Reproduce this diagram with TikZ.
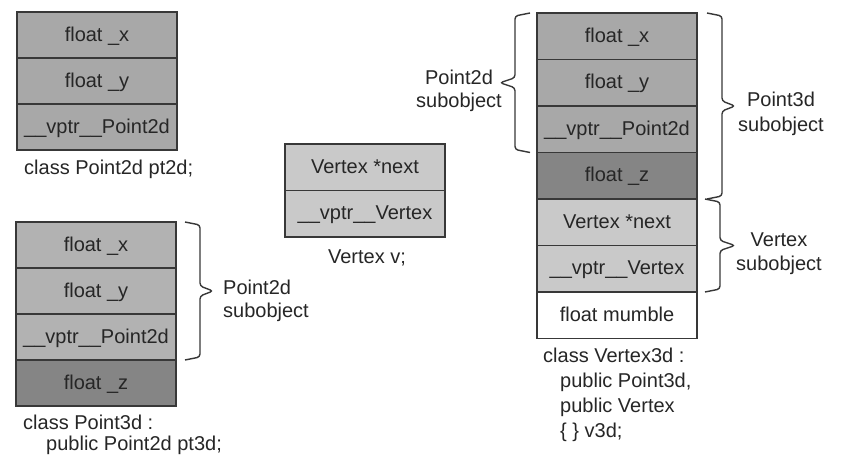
\documentclass[tikz,border=0pt]{standalone}
\usepackage{fontspec}
\setmainfont{Liberation Sans}
\usetikzlibrary{calc}
\definecolor{gMid}{gray}{0.66}
\definecolor{gMidL}{gray}{0.70}
\definecolor{gDark}{gray}{0.52}
\definecolor{gLight}{gray}{0.79}
\definecolor{ink}{gray}{0.15}
\definecolor{lineC}{gray}{0.22}
\begin{document}
\begin{tikzpicture}[x=1pt,y=-1pt,
  cell/.style={draw=lineC, line width=1.6pt, minimum width=160pt, anchor=north west,
    inner sep=0pt, outer sep=0pt, text height=14pt, text depth=2pt, text=ink,
    font=\fontsize{20}{24}\selectfont},
  rowA/.style={cell, minimum height=46pt},
  rowB/.style={cell, minimum height=46.5pt},
  lbl/.style={inner sep=0pt, text=ink},
  bracestyle/.style={draw=lineC, line width=1.4pt, rounded corners=3pt}]
\useasboundingbox[fill=white] (0,0) rectangle (847,461);

% ---- class Point2d pt2d
\node[rowA, fill=gMid] (a1) at (17,12) {float \_x};
\node[rowA, fill=gMid] (a2) at (a1.south west) {float \_y};
\node[rowA, fill=gMid] (a3) at (a2.south west) {\_\_vptr\_\_Point2d};
\node[lbl, anchor=north west, font=\fontsize{20}{21}\selectfont] (la) at (24,160) {class Point2d pt2d;};

% ---- class Point3d pt3d
\node[rowA, fill=gMidL] (b1) at (16,222) {float \_x};
\node[rowA, fill=gMidL] (b2) at (b1.south west) {float \_y};
\node[rowA, fill=gMidL] (b3) at (b2.south west) {\_\_vptr\_\_Point2d};
\node[rowA, fill=gDark] (b4) at (b3.south west) {float \_z};
\node[lbl, anchor=north west, align=left, font=\fontsize{20}{21}\selectfont] (lb) at (23,415)
  {class Point3d :\\\hspace*{23pt}public Point2d pt3d;};
\draw[bracestyle] ($(b1.north east)+(9,0)$) -- ($(b1.north east)+(24,3)$)
  -- ($(b1.north east)!0.5!(b3.south east)+(24,-5)$) -- ($(b1.north east)!0.5!(b3.south east)+(37,0)$)
  -- ($(b1.north east)!0.5!(b3.south east)+(24,5)$) -- ($(b3.south east)+(24,-3)$) -- ($(b3.south east)+(9,0)$);
\node[lbl, anchor=north west, align=left, font=\fontsize{20}{23}\selectfont] (lbb) at (223,280) {Point2d\\subobject};

% ---- Vertex v
\node[rowB, fill=gLight] (c1) at (285,144) {Vertex *next};
\node[rowB, fill=gLight] (c2) at (c1.south west) {\_\_vptr\_\_Vertex};
\node[lbl, anchor=north, font=\fontsize{20}{21}\selectfont] (lc) at (367,250) {Vertex v;};

% ---- class Vertex3d v3d
\node[rowB, fill=gMid] (d1) at (537,13) {float \_x};
\node[rowB, fill=gMid] (d2) at (d1.south west) {float \_y};
\node[rowB, fill=gMid] (d3) at (d2.south west) {\_\_vptr\_\_Point2d};
\node[rowB, fill=gDark] (d4) at (d3.south west) {float \_z};
\node[rowB, fill=gLight] (d5) at (d4.south west) {Vertex *next};
\node[rowB, fill=gLight] (d6) at (d5.south west) {\_\_vptr\_\_Vertex};
\node[rowB, fill=white] (d7) at (d6.south west) {float mumble};
\node[lbl, anchor=north west, align=left, font=\fontsize{20}{25}\selectfont] (ld) at (543,348)
  {class Vertex3d :\\\hspace*{17pt}public Point3d,\\\hspace*{17pt}public Vertex\\\hspace*{17pt}\{ \} v3d;};

% left brace: Point2d subobject
\draw[bracestyle] ($(d1.north west)+(-7,0)$) -- ($(d1.north west)+(-22,3)$)
  -- ($(d1.north west)!0.5!(d3.south west)+(-22,-5)$) -- ($(d1.north west)!0.5!(d3.south west)+(-37,0)$)
  -- ($(d1.north west)!0.5!(d3.south west)+(-22,5)$) -- ($(d3.south west)+(-22,-3)$) -- ($(d3.south west)+(-7,0)$);
\node[lbl, anchor=north, align=center, font=\fontsize{20}{23}\selectfont] (ldl) at (459,70) {Point2d\\subobject};

% right brace: Point3d subobject
\draw[bracestyle] ($(d1.north east)+(10,0)$) -- ($(d1.north east)+(25,3)$)
  -- ($(d1.north east)!0.5!(d4.south east)+(25,-5)$) -- ($(d1.north east)!0.5!(d4.south east)+(38,0)$)
  -- ($(d1.north east)!0.5!(d4.south east)+(25,5)$) -- ($(d4.south east)+(25,-3)$) -- ($(d4.south east)+(10,0)$);
\node[lbl, anchor=north, align=center, font=\fontsize{20}{25}\selectfont] (ldr1) at (781,92) {Point3d\\subobject};

% right brace: Vertex subobject
\draw[bracestyle] ($(d5.north east)+(8,0)$) -- ($(d5.north east)+(23,3)$)
  -- ($(d5.north east)!0.5!(d6.south east)+(23,-5)$) -- ($(d5.north east)!0.5!(d6.south east)+(38,0)$)
  -- ($(d5.north east)!0.5!(d6.south east)+(23,5)$) -- ($(d6.south east)+(23,-3)$) -- ($(d6.south east)+(8,0)$);
\node[lbl, anchor=north, align=center, font=\fontsize{20}{24}\selectfont] (ldr2) at (779,233) {Vertex\\subobject};
\end{tikzpicture}
\end{document}
